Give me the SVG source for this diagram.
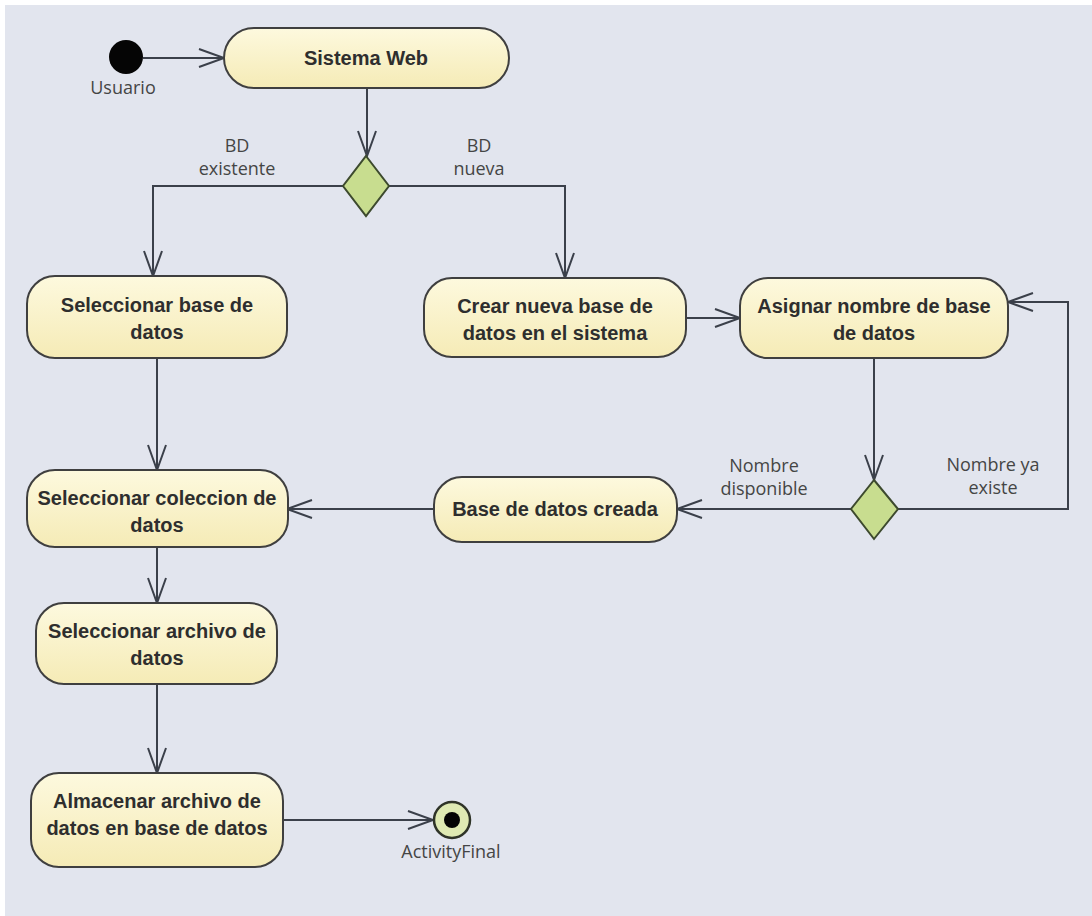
<svg xmlns="http://www.w3.org/2000/svg" width="1092" height="916" viewBox="0 0 1092 916">
  <defs>
    <linearGradient id="actFill" x1="0" y1="0" x2="0" y2="1">
      <stop offset="0" stop-color="#fdf9de"/>
      <stop offset="1" stop-color="#f5ebb6"/>
    </linearGradient>
    <marker id="open" markerUnits="userSpaceOnUse" markerWidth="30" markerHeight="22" refX="26" refY="10" orient="auto">
      <path d="M1,1 L26,10 L1,19" fill="none" stroke="#3b404a" stroke-width="2"/>
    </marker>
    <style>
      .act { fill: url(#actFill); stroke: #3f3f3f; stroke-width: 2; }
      .dec { fill: #c8dd8f; stroke: #3d4a2e; stroke-width: 2; }
      .lbl { font-family: "Liberation Sans", Arial, sans-serif; font-weight: bold; font-size: 20px; fill: #2e2e2e; text-anchor: middle; }
      .note { font-family: "Open Sans", "DejaVu Sans", sans-serif; font-size: 18px; fill: #454545; text-anchor: middle; }
      .flow { fill: none; stroke: #3b404a; stroke-width: 2; marker-end: url(#open); }
    </style>
  </defs>

  <rect x="0" y="0" width="1092" height="916" fill="#ffffff"/>
  <rect x="5" y="5" width="1087" height="911" fill="#e2e5ee"/>

  <!-- control flows -->
  <g id="connectors">
    <path class="flow" d="M143,58 L224,58"/>
    <path class="flow" d="M367,88 L367,156"/>
    <path class="flow" d="M344,186 L153,186 L153,276"/>
    <text class="note" x="237" y="152">BD</text>
    <text class="note" x="237" y="175">existente</text>
    <path class="flow" d="M389,186 L565,186 L565,278"/>
    <text class="note" x="479" y="152">BD</text>
    <text class="note" x="479" y="175">nueva</text>
    <path class="flow" d="M157,358 L157,470"/>
    <path class="flow" d="M686,318 L740,318"/>
    <path class="flow" d="M874,358 L874,480"/>
    <path class="flow" d="M898,509 L1068,509 L1068,302 L1008,302"/>
    <text class="note" x="993" y="471">Nombre ya</text>
    <text class="note" x="993" y="494">existe</text>
    <path class="flow" d="M851,509 L677,509"/>
    <text class="note" x="764" y="472">Nombre</text>
    <text class="note" x="764" y="495">disponible</text>
    <path class="flow" d="M434,509 L287,509"/>
    <path class="flow" d="M157,547 L157,603"/>
    <path class="flow" d="M157,684 L157,773"/>
    <path class="flow" d="M283,820 L433,820"/>
  </g>

  <!-- initial node -->
  <g id="initial">
    <circle cx="126" cy="57" r="17" fill="#050505"/>
    <text class="note" x="123" y="94">Usuario</text>
  </g>

  <g id="sistemaWeb">
    <rect class="act" x="224" y="28" width="285" height="60" rx="30"/>
    <text class="lbl" x="366" y="65">Sistema Web</text>
  </g>

  <g id="decision1">
    <polygon class="dec" points="366,156 389,186 366,216 343,186"/>
  </g>

  <g id="seleccionarBase">
    <rect class="act" x="27" y="276" width="260" height="82" rx="28"/>
    <text class="lbl" x="157" y="312">Seleccionar base de</text>
    <text class="lbl" x="157" y="339">datos</text>
  </g>

  <g id="crearBase">
    <rect class="act" x="424" y="278" width="262" height="79" rx="28"/>
    <text class="lbl" x="555" y="313">Crear nueva base de</text>
    <text class="lbl" x="555" y="340">datos en el sistema</text>
  </g>

  <g id="asignarNombre">
    <rect class="act" x="740" y="278" width="268" height="80" rx="28"/>
    <text class="lbl" x="874" y="313">Asignar nombre de base</text>
    <text class="lbl" x="874" y="340">de datos</text>
  </g>

  <g id="decision2">
    <polygon class="dec" points="874,480 898,509 874,539 851,509"/>
  </g>

  <g id="baseCreada">
    <rect class="act" x="434" y="477" width="243" height="65" rx="28"/>
    <text class="lbl" x="555" y="516">Base de datos creada</text>
  </g>

  <g id="seleccionarColeccion">
    <rect class="act" x="27" y="470" width="261" height="77" rx="28"/>
    <text class="lbl" x="157" y="505">Seleccionar coleccion de</text>
    <text class="lbl" x="157" y="532">datos</text>
  </g>

  <g id="seleccionarArchivo">
    <rect class="act" x="36" y="603" width="241" height="81" rx="28"/>
    <text class="lbl" x="157" y="638">Seleccionar archivo de</text>
    <text class="lbl" x="157" y="665">datos</text>
  </g>

  <g id="almacenarArchivo">
    <rect class="act" x="31" y="773" width="252" height="94" rx="28"/>
    <text class="lbl" x="157" y="808">Almacenar archivo de</text>
    <text class="lbl" x="157" y="835">datos en base de datos</text>
  </g>

  <!-- final node -->
  <g id="activityFinal">
    <circle cx="452" cy="820" r="18" fill="#dfeab3" stroke="#2f3428" stroke-width="2.5"/>
    <circle cx="452" cy="820" r="8" fill="#050505"/>
    <text class="note" x="451" y="858">ActivityFinal</text>
  </g>
</svg>
